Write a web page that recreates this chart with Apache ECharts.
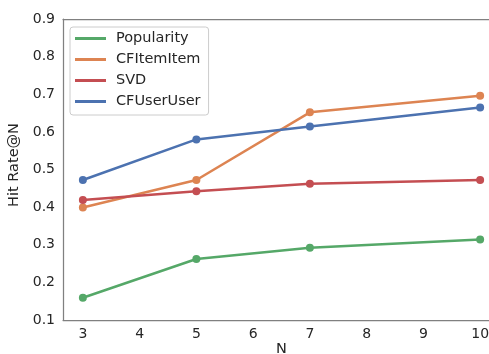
<!DOCTYPE html>
<html>
<head>
<meta charset="utf-8">
<script src="https://cdn.jsdelivr.net/npm/echarts@6/dist/echarts.min.js"></script>
<style>html,body{margin:0;padding:0;background:#fff}#c{width:489px;height:354px}</style>
</head>
<body>
<div id="c"></div>
<script>
const nValues = [3, 5, 7, 10];
const xTicks = [3, 4, 5, 6, 7, 8, 9, 10];
const popularity = [0.159, 0.262, 0.292, 0.314];
const cfItemItem = [0.399, 0.472, 0.652, 0.696];
const svd = [0.419, 0.442, 0.462, 0.472];
const cfUserUser = [0.472, 0.580, 0.614, 0.665];
const seriesNames = ['Popularity', 'CFItemItem', 'SVD', 'CFUserUser'];
const seriesValues = [popularity, cfItemItem, svd, cfUserUser];
const colors = ['#55a868', '#dd8452', '#c44e52', '#4c72b0'];

const font = 'DejaVu Sans';
const txt = '#262626';
const spine = '#808080';
const chart = echarts.init(document.getElementById('c'), null, {renderer: 'canvas'});
chart.setOption({
  animation: false,
  backgroundColor: '#fff',
  grid: {left: 63, top: 19, width: 437, height: 301, outerBoundsMode: 'none', containLabel: false},
  xAxis: [{
    type: 'value', min: 2.65, max: 10.35,
    name: 'N', nameLocation: 'middle', nameGap: 22, nameMoveOverlap: false,
    nameTextStyle: {fontFamily: font, fontSize: 14.5, color: txt, verticalAlign: 'top'},
    axisLine: {show: true, lineStyle: {color: spine, width: 1.25}},
    axisTick: {show: false},
    splitLine: {show: false},
    axisLabel: {customValues: xTicks, fontFamily: font, fontSize: 14, color: txt, margin: 7}
  }, {
    type: 'value', min: 2.65, max: 10.35, position: 'top',
    axisLine: {show: true, onZero: false, lineStyle: {color: spine, width: 1.25}},
    axisTick: {show: false}, axisLabel: {show: false}, splitLine: {show: false}
  }],
  yAxis: {
    type: 'value', min: 0.1, max: 0.9, interval: 0.1,
    name: 'Hit Rate@N', nameLocation: 'middle', nameGap: 35, nameRotate: 90,
    nameTextStyle: {fontFamily: font, fontSize: 14.5, color: txt, padding: [0, 0, 0, 9]},
    axisLine: {show: true, lineStyle: {color: spine, width: 1.25}},
    axisTick: {show: false},
    splitLine: {show: false},
    axisLabel: {fontFamily: font, fontSize: 14, color: txt, margin: 8, formatter: v => v.toFixed(1)}
  },
  legend: {
    orient: 'vertical', left: 70, top: 27,
    icon: 'rect', itemWidth: 31, itemHeight: 3, itemGap: 6,
    padding: [4, 8, 6, 5],
    backgroundColor: 'rgba(255,255,255,0.8)', borderColor: '#cccccc', borderWidth: 1, borderRadius: 3,
    textStyle: {fontFamily: font, fontSize: 14.5, color: txt, lineHeight: 14, padding: [0, 0, 0, 5]},
    data: seriesNames
  },
  series: seriesNames.map((name, i) => ({
    name, type: 'line',
    data: nValues.map((n, j) => [n, seriesValues[i][j]]),
    symbol: 'circle', symbolSize: 8,
    lineStyle: {width: 2.5, color: colors[i]},
    itemStyle: {color: colors[i]},
    color: colors[i]
  }))
});
</script>
</body>
</html>
